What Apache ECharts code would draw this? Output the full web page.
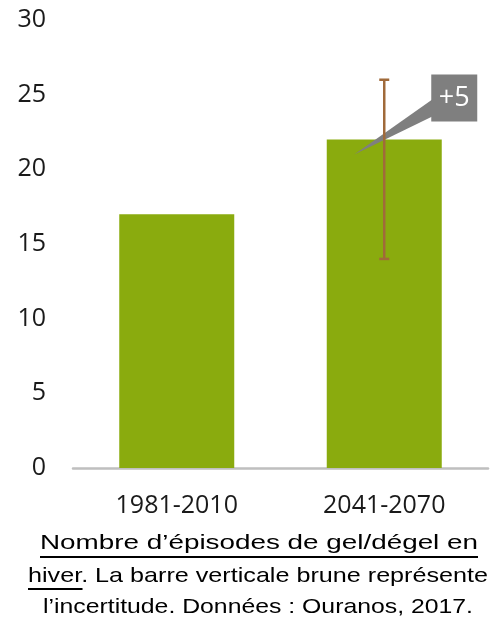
<!DOCTYPE html>
<html><head><meta charset="utf-8">
<script src="https://cdn.jsdelivr.net/npm/echarts@6/dist/echarts.min.js"></script>
<style>html,body{margin:0;padding:0;background:#fff}#c{width:503px;height:618px}</style>
</head><body><div id="c"></div>
<script>
// ---- data ----
const categories = ['1981-2010', '2041-2070'];
const values = [17, 22];
const errCategory = [1];
const errLow = [14];
const errHigh = [26];
const yMin = 0, yMax = 30, yStep = 5;
const calloutCategory = [1];
const calloutValue = [21];
const calloutText = ['+5'];
const captionUnderlined1 = "Nombre d’épisodes de gel/dégel en";
const captionUnderlined2 = "hiver";
const captionRest2 = ". La barre verticale brune représente";
const captionLine3 = "l’incertitude. Données : Ouranos, 2017.";

// ---- styles ----
const GREEN = '#8aab0e', BROWN = '#a06a3a', GRAY = '#7f7f7f';
const AXFONT = 'Open Sans', CAPFONT = 'Liberation Sans', CAPSIZE = 21;
const CAPF = CAPSIZE + 'px "' + CAPFONT + '"';

const ctx = document.createElement('canvas').getContext('2d');
function tw(t) { ctx.font = CAPF; return ctx.measureText(t).width; }

// caption line extents (layout)
const L1 = [40, 478], L2 = [28, 488], L3 = [43, 473];
const s1 = (L1[1] - L1[0]) / tw(captionUnderlined1);
const s2 = (L2[1] - L2[0]) / tw(captionUnderlined2 + captionRest2);
const s3 = (L3[1] - L3[0]) / tw(captionLine3);
const wH = tw(captionUnderlined2) * s2;

const chart = echarts.init(document.getElementById('c'), null, {renderer: 'canvas'});
chart.setOption({
  animation: false,
  backgroundColor: '#fff',
  grid: {left: 73, right: 15, top: 20, bottom: 150, containLabel: false},
  xAxis: {
    type: 'category', data: categories,
    axisLine: {lineStyle: {color: '#bfbfbf', width: 2.5}},
    axisTick: {show: false},
    axisLabel: {fontFamily: AXFONT, fontSize: 25, color: '#1a1a1a', margin: 25}
  },
  yAxis: {
    type: 'value', min: yMin, max: yMax, interval: yStep,
    axisLine: {show: false}, axisTick: {show: false}, splitLine: {show: false},
    axisLabel: {fontFamily: AXFONT, fontSize: 25, color: '#1a1a1a', margin: 27}
  },
  series: [
    {type: 'bar', data: values, barWidth: 115, itemStyle: {color: GREEN}, z: 2},
    {
      type: 'custom', z: 4,
      data: calloutCategory.map((c, i) => [c, calloutValue[i]]),
      renderItem: function (params, api) {
        const p = api.coord([api.value(0), api.value(1)]);
        const tip = [p[0] - 30, p[1]];
        const bx = tip[0] + 77, by = tip[1] - 80, bw = 46, bh = 47;
        return {type: 'group', children: [
          {type: 'polygon', shape: {points: [tip, [bx + 1, by + 25], [bx + 1, by + 42]]}, style: {fill: GRAY}},
          {type: 'rect', shape: {x: bx, y: by, width: bw, height: bh}, style: {fill: GRAY}},
          {type: 'text', x: bx + bw / 2, y: by + bh / 2, style: {text: calloutText[params.dataIndex], fill: '#fff', font: '27px "Open Sans"', align: 'center', verticalAlign: 'middle'}}
        ]};
      }
    },
    {
      type: 'custom', z: 5,
      data: errCategory.map((c, i) => [c, errLow[i], errHigh[i]]),
      renderItem: function (params, api) {
        const lo = api.coord([api.value(0), api.value(1)]);
        const hi = api.coord([api.value(0), api.value(2)]);
        const cap = 5, st = {stroke: BROWN, lineWidth: 2.5};
        return {type: 'group', children: [
          {type: 'line', shape: {x1: lo[0], y1: lo[1], x2: hi[0], y2: hi[1]}, style: st},
          {type: 'line', shape: {x1: hi[0] - cap, y1: hi[1], x2: hi[0] + cap, y2: hi[1]}, style: st},
          {type: 'line', shape: {x1: lo[0] - cap, y1: lo[1], x2: lo[0] + cap, y2: lo[1]}, style: st}
        ]};
      }
    }
  ],
  graphic: [
    {type: 'text', x: (L1[0] + L1[1]) / 2, y: 543, scaleX: s1, style: {text: captionUnderlined1, font: CAPF, fill: '#000', align: 'center', verticalAlign: 'middle'}},
    {type: 'line', shape: {x1: L1[0], y1: 557, x2: L1[1], y2: 557}, style: {stroke: '#000', lineWidth: 2}},
    {type: 'text', x: L2[0], y: 576, scaleX: s2, style: {text: captionUnderlined2 + captionRest2, font: CAPF, fill: '#000', align: 'left', verticalAlign: 'middle'}},
    {type: 'line', shape: {x1: L2[0], y1: 589, x2: L2[0] + wH, y2: 589}, style: {stroke: '#000', lineWidth: 2}},
    {type: 'text', x: (L3[0] + L3[1]) / 2, y: 607, scaleX: s3, style: {text: captionLine3, font: CAPF, fill: '#000', align: 'center', verticalAlign: 'middle'}}
  ]
});
</script></body></html>
